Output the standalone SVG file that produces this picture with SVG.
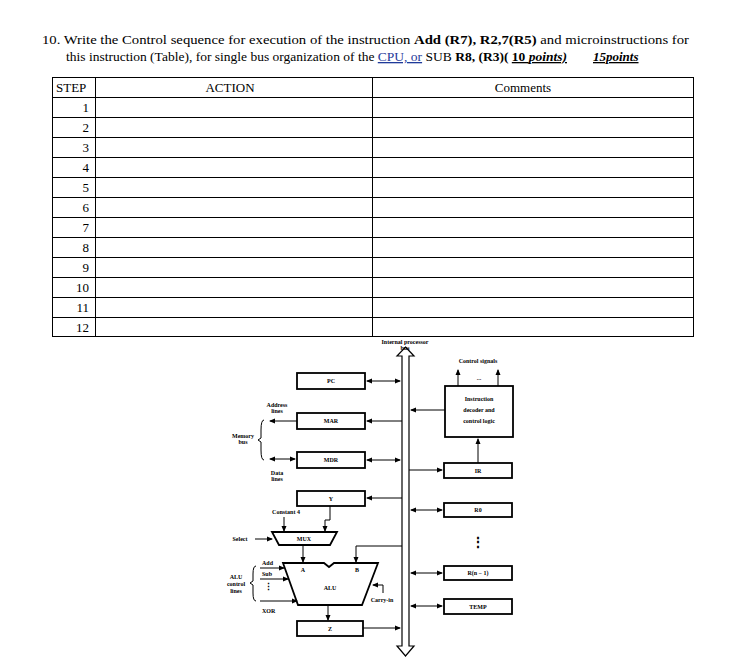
<svg xmlns="http://www.w3.org/2000/svg" width="752" height="660" viewBox="0 0 752 660">
<defs>
<marker id="ah" markerWidth="6" markerHeight="6" refX="5" refY="3" orient="auto-start-reverse" markerUnits="userSpaceOnUse"><path d="M0,0.5 L6,3 L0,5.5z" fill="#000"/></marker>
</defs>
<style>
text{font-family:"Liberation Serif","Times New Roman",serif}
.t{font-size:13px}
.s{font-size:6px;font-weight:bold}
.b{fill:#fff;stroke:#000;stroke-width:1.8}
.l{stroke:#000;stroke-width:1;fill:none}
.g{stroke:#000;stroke-width:1}
</style>
<rect width="752" height="660" fill="#fff"/>
<text class="t" x="42" y="44" font-size="14" textLength="647" lengthAdjust="spacingAndGlyphs">10. Write the Control sequence for execution of the instruction <tspan font-weight="bold">Add (R7), R2,7(R5)</tspan> and microinstructions for</text>
<text class="t" x="66" y="61" font-size="12" textLength="501" lengthAdjust="spacingAndGlyphs">this instruction (Table), for single bus organization of the <tspan fill="#1f3a9a" text-decoration="underline">CPU,  or</tspan> SUB <tspan font-weight="bold">R8, (R3)(</tspan> <tspan font-weight="bold" text-decoration="underline">10 <tspan font-style="italic">points)</tspan></tspan></text>
<text class="t" x="593" y="61" font-size="12" font-weight="bold" font-style="italic" text-decoration="underline">15points</text>
<g id="table" fill="none" stroke="#000" stroke-width="1">
<rect x="52.5" y="77.5" width="641" height="259"/>
<path d="M95.5,77.5V336.5M372.5,77.5V336.5M52.5,97.5H693.5M52.5,117.5H693.5M52.5,137.5H693.5M52.5,157.5H693.5M52.5,177.5H693.5M52.5,197.5H693.5M52.5,217.5H693.5M52.5,237.5H693.5M52.5,257.5H693.5M52.5,277.5H693.5M52.5,297.5H693.5M52.5,317.5H693.5"/>
</g>
<g class="t" font-size="12">
<text x="56" y="92">STEP</text><text x="230" y="92" text-anchor="middle">ACTION</text><text x="523" y="92" text-anchor="middle">Comments</text>
<g text-anchor="end"><text x="89" y="112">1</text><text x="89" y="132">2</text><text x="89" y="152">3</text><text x="89" y="172">4</text><text x="89" y="192">5</text><text x="89" y="212">6</text><text x="89" y="232">7</text><text x="89" y="252">8</text><text x="89" y="272">9</text><text x="89" y="292">10</text><text x="89" y="312">11</text><text x="89" y="332">12</text></g>
</g>
<g id="bus"><polygon points="405.5,347 414,356 409,356 409,646 414,646 405.5,656 397,646 402,646 402,356 397,356" fill="#fff" stroke="#000" stroke-width="1.2"/>
<text class="s" x="405" y="344" text-anchor="middle">Internal processor</text><text class="s" x="405" y="350" text-anchor="middle">bus</text></g>
<g id="PC"><rect class="b" x="297" y="373" width="68" height="16"/><text class="s" x="331" y="383" text-anchor="middle">PC</text></g>
<g id="MAR"><rect class="b" x="297" y="413" width="68" height="16"/><text class="s" x="331" y="423" text-anchor="middle">MAR</text></g>
<g id="MDR"><rect class="b" x="297" y="452" width="68" height="16"/><text class="s" x="331" y="462" text-anchor="middle">MDR</text></g>
<g id="Y"><rect class="b" x="297" y="491" width="68" height="15"/><text class="s" x="331" y="501" text-anchor="middle">Y</text></g>
<g id="Z"><rect class="b" x="297" y="621" width="66" height="15"/><text class="s" x="330" y="631" text-anchor="middle">Z</text></g>
<g id="decoder"><rect class="b" x="445" y="386" width="68" height="51"/><text class="s" x="479" y="401" text-anchor="middle">Instruction</text><text class="s" x="479" y="412" text-anchor="middle">decoder and</text><text class="s" x="479" y="423" text-anchor="middle">control logic</text>
<text class="s" x="478" y="363" text-anchor="middle">Control signals</text><text class="s" x="479" y="380" text-anchor="middle" font-size="10">...</text></g>
<g id="IR"><rect class="b" x="444" y="463" width="68" height="15"/><text class="s" x="478" y="473" text-anchor="middle">IR</text></g>
<g id="R0"><rect class="b" x="444" y="503" width="68" height="14"/><text class="s" x="478" y="512" text-anchor="middle">R0</text></g>
<g id="Rn1"><rect class="b" x="444" y="566" width="68" height="14"/><text class="s" x="478" y="575" text-anchor="middle">R(n − 1)</text></g>
<g id="TEMP"><rect class="b" x="444" y="599" width="68" height="15"/><text class="s" x="478" y="609" text-anchor="middle">TEMP</text></g>
<g id="MUX"><polygon points="272,532 337,532 330,545 279,545" fill="#fff" stroke="#000" stroke-width="1.8"/><text class="s" x="304" y="541" text-anchor="middle">MUX</text></g>
<g id="ALU"><polygon points="283,563 324,563 329,567 334,563 378,563 362,605 298,605" fill="#fff" stroke="#000" stroke-width="1.8"/><text class="s" x="303" y="572" text-anchor="middle">A</text><text class="s" x="357" y="572" text-anchor="middle">B</text><text class="s" x="330" y="590" text-anchor="middle">ALU</text></g>
<g id="connectors">
<line class="g" x1="367" y1="381" x2="400" y2="381" marker-start="url(#ah)" marker-end="url(#ah)"/>
<line class="g" x1="402" y1="421" x2="367" y2="421" marker-end="url(#ah)"/>
<line class="g" x1="367" y1="460" x2="400" y2="460" marker-start="url(#ah)" marker-end="url(#ah)"/>
<line class="g" x1="402" y1="498" x2="367" y2="498" marker-end="url(#ah)"/>
<line class="g" x1="297" y1="421" x2="270" y2="421" marker-end="url(#ah)"/>
<line class="g" x1="270" y1="459" x2="295" y2="459" marker-start="url(#ah)" marker-end="url(#ah)"/>
<line class="g" x1="445" y1="410" x2="411" y2="410" marker-end="url(#ah)"/>
<line class="g" x1="409" y1="470" x2="442" y2="470" marker-end="url(#ah)"/>
<line class="g" x1="478" y1="463" x2="478" y2="439" marker-end="url(#ah)"/>
<line class="g" x1="458" y1="386" x2="458" y2="370" marker-end="url(#ah)"/>
<line class="g" x1="498" y1="386" x2="498" y2="370" marker-end="url(#ah)"/>
<line class="g" x1="411" y1="510" x2="442" y2="510" marker-start="url(#ah)" marker-end="url(#ah)"/>
<line class="g" x1="411" y1="573" x2="442" y2="573" marker-start="url(#ah)" marker-end="url(#ah)"/>
<line class="g" x1="411" y1="606" x2="442" y2="606" marker-start="url(#ah)" marker-end="url(#ah)"/>
<line class="g" x1="284" y1="517" x2="284" y2="531" marker-end="url(#ah)"/>
<polyline class="l" points="330,506 330,520 325,520 325,531" marker-end="url(#ah)"/>
<line class="g" x1="255" y1="539" x2="272" y2="539" marker-end="url(#ah)"/>
<line class="g" x1="303" y1="545" x2="303" y2="562" marker-end="url(#ah)"/>
<polyline class="l" points="402,546 356,546 356,562" marker-end="url(#ah)"/>
<polyline class="l" points="383,593 383,585 373,585" marker-end="url(#ah)"/>
<line class="g" x1="260" y1="568" x2="284" y2="568" marker-end="url(#ah)"/>
<line class="g" x1="260" y1="579" x2="288" y2="579" marker-end="url(#ah)"/>
<line class="g" x1="260" y1="601" x2="297" y2="601" marker-end="url(#ah)"/>
<line class="g" x1="328" y1="605" x2="328" y2="620" marker-end="url(#ah)"/>
<line class="g" x1="363" y1="628" x2="400" y2="628" marker-end="url(#ah)"/>
<path class="l" d="M264,420 Q261,420 261,430 L261,438 L258,440 L261,442 L261,450 Q261,460 264,460"/>
<path class="l" d="M256,566 Q253,566 253,574 L253,581 L250,583 L253,585 L253,593 Q253,601 256,601"/>
</g>
<g class="s">
<text x="277" y="407" text-anchor="middle">Address</text><text x="277" y="413" text-anchor="middle">lines</text>
<text x="277" y="475" text-anchor="middle">Data</text><text x="277" y="481" text-anchor="middle">lines</text>
<text x="243" y="438" text-anchor="middle">Memory</text><text x="243" y="444" text-anchor="middle">bus</text>
<text x="286" y="514" text-anchor="middle">Constant 4</text>
<text x="240" y="541" text-anchor="middle">Select</text>
<text x="262" y="565">Add</text><text x="262" y="576">Sub</text><text x="262" y="613">XOR</text>
<text x="268" y="590" text-anchor="middle" font-size="9">⋮</text>
<text x="236" y="579" text-anchor="middle">ALU</text><text x="236" y="586" text-anchor="middle">control</text><text x="236" y="593" text-anchor="middle">lines</text>
<text x="382" y="602" text-anchor="middle">Carry-in</text>
<text x="478" y="547" text-anchor="middle" font-size="14">⋮</text>
</g>
</svg>
